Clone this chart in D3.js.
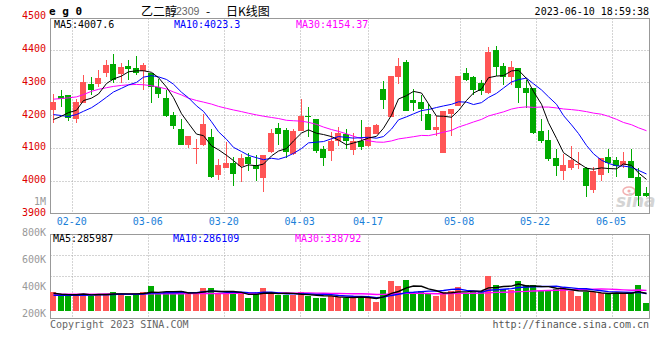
<!DOCTYPE html>
<html><head><meta charset="utf-8">
<script src="https://cdn.jsdelivr.net/npm/d3@7"></script>
<style>
html,body{margin:0;padding:0;background:#fff;}
svg{display:block;}
</style></head><body>
<svg id="c" width="660" height="360"></svg>
<script>
// ---------------- DATA ----------------
const dates = ["02-15","02-16","02-17",
"02-20","02-21","02-22","02-23","02-24",
"02-27","02-28","03-01","03-02","03-03",
"03-06","03-07","03-08","03-09","03-10",
"03-13","03-14","03-15","03-16","03-17",
"03-20","03-21","03-22","03-23","03-24",
"03-27","03-28","03-29","03-30","03-31",
"04-03","04-04","04-06","04-07",
"04-10","04-11","04-12","04-13","04-14",
"04-17","04-18","04-19","04-20","04-21",
"04-24","04-25","04-26","04-27","04-28",
"05-04","05-05",
"05-08","05-09","05-10","05-11","05-12",
"05-15","05-16","05-17","05-18","05-19",
"05-22","05-23","05-24","05-25","05-26",
"05-29","05-30","05-31","06-01","06-02",
"06-05","06-06","06-07","06-08","06-09",
"06-12"];

const open  = [4216,4259,4262,4188,4239,4296,4296,4329,4357,4326,4351,4345,4336,4329,4288,4255,4201,4158,4110,4099,
               4110,4136,4018,4039,4054,4046,4074,4048,4008,4089,4162,4157,4082,4154,4198,4189,4097,4092,4122,4144,
               4096,4121,4106,4145,4280,4196,4317,4363,4246,4241,4206,4155,4086,4206,4229,4331,4318,4300,4269,4401,
               4351,4317,4346,4283,4283,4154,4125,4071,4032,4041,4050,4041,3972,4018,4072,4064,4048,4062,4013,3964];
const high  = [4265,4278,4262,4252,4323,4318,4339,4369,4388,4359,4369,4382,4361,4331,4313,4278,4211,4188,4139,4129,
               4205,4159,4067,4118,4072,4082,4087,4080,4079,4159,4177,4161,4159,4251,4225,4189,4108,4149,4164,4160,
               4147,4186,4164,4175,4305,4322,4377,4369,4282,4264,4234,4198,4213,4221,4322,4346,4320,4308,4410,4411,
               4359,4366,4346,4308,4283,4189,4156,4098,4084,4107,4088,4044,4044,4069,4098,4074,4088,4098,4039,3983];
const low   = [4178,4227,4184,4178,4237,4262,4286,4318,4300,4298,4310,4324,4278,4239,4255,4196,4160,4110,4102,4053,
               4108,4008,4003,4039,3985,3997,4031,4000,3966,4087,4110,4070,4080,4152,4133,4087,4046,4062,4108,4097,
               4081,4096,4104,4143,4221,4195,4295,4213,4213,4183,4155,4137,4086,4137,4229,4305,4264,4264,4267,4322,
               4293,4293,4239,4222,4144,4115,4062,4015,4003,4034,4037,3950,3965,4000,4025,4013,4039,4008,3925,3950];
const close = [4241,4251,4194,4241,4302,4278,4314,4354,4310,4347,4343,4329,4355,4286,4266,4198,4168,4110,4139,4102,
               4174,4013,4050,4054,4021,4070,4051,4038,4079,4146,4144,4089,4154,4200,4195,4092,4069,4123,4146,4122,
               4121,4104,4164,4172,4246,4320,4351,4215,4237,4221,4155,4164,4213,4221,4322,4310,4278,4274,4394,4347,
               4317,4349,4285,4268,4148,4123,4067,4046,4049,4064,4051,3986,4031,4069,4054,4046,4061,4010,3954,3954];
const volume = [359000,337000,342000,342000,342000,330000,347000,347000,359000,347000,
                330000,347000,359000,406000,342000,359000,347000,367000,347000,347000,
                389000,389000,347000,347000,342000,359000,317000,347000,389000,347000,
                337000,337000,337000,359000,330000,317000,317000,330000,324000,313000,
                313000,332000,313000,285000,374000,441000,404000,448000,350000,367000,
                347000,332000,359000,367000,399000,347000,357000,367000,480000,411000,
                384000,374000,441000,409000,411000,367000,367000,384000,394000,369000,
                332000,357000,359000,350000,347000,347000,347000,359000,411000,280000];

const ma5Head  = [4188,4198,4209,4216];
const ma10Head = [4203,4200,4197,4203,4213,4224,4238,4256,4272];
const ma30Head = [4250,4252,4254,4257,4264,4274,4280,4285,4289,4292,4294,4295,4294,4291,4287,
                  4281,4272,4263,4253,4246,4241,4235,4228,4222,4217,4212,4207,4202,4198];
const volMa5Head  = [350000,343000,340000,339000];
const volMa10Head = [336000,335000,335000,336000,336000,337000,338000,339000,341000];
const volMa30Head = [344000,344000,343000,343000,344000,344000,344000,345000,344000,344000,
                     345000,345000,346000,346000,346000,347000,347000,347000,348000,348000,
                     348000,349000,349000,349000,350000,350000,350000,351000,351000];

const priceTicks = [4500,4400,4300,4200,4100,4000,3900];
const volTicks = [800000,600000,400000,200000];
const volTickLabels = ["800K","600K","400K","200K"];
const dateTicks = ["02-20","03-06","03-20","04-03","04-17","05-08","05-22","06-05"];
const maNames = ["MA5","MA10","MA30"];
const maWindows = [5,10,30];
const priceMaLast = ["4007.6","4023.3","4154.37"];
const volMaLast = ["285987","286109","338792"];

// ---------------- STYLE / LAYOUT ----------------
const UP = "#ff5555", DOWN = "#00aa00";
const maColors = ["#000000","#0000ff","#ff00ff"];
const MONO = "'DejaVu Sans Mono', monospace";
const legendX = [54,174,296];

const svg = d3.select("#c");
const main = {left:50.5, right:649.5, top:18.5, bottom:213.5};
const vol = {top:234.5, bottom:318.5, base:310.7};

const x = d3.scaleBand().domain(dates).range([49.75,649.75]).paddingInner(0.2).paddingOuter(0.1);
const xGrid = d3.scalePoint().domain(dates).range([50,650]);
const y = d3.scaleLinear().domain([3900,4500]).range([213.8,17.3]);
const yv = d3.scaleLinear().domain([200000,800000]).range([313.6,232.4]);

function movingAvg(vals, n, head){
  return vals.map((v,i)=>{
    if(i < n-1) return head[i];
    let s=0; for(let k=i-n+1;k<=i;k++) s+=vals[k];
    return s/n;
  });
}
const idx = d3.range(dates.length);
const cx = i => Math.floor(x(dates[i])) + 3.5;

// ---------------- GRID ----------------
const grid = svg.append("g").attr("stroke","#a8a8a8").attr("stroke-dasharray","1,2").attr("stroke-width",1);
priceTicks.filter(v=>v<4500&&v>3900).forEach(v=>{
  const yy = Math.floor(y(v))+0.5;
  grid.append("line").attr("x1",main.left).attr("x2",main.right).attr("y1",yy).attr("y2",yy);
});
[255.5,276.5].forEach(yy=>{
  grid.append("line").attr("x1",main.left).attr("x2",main.right).attr("y1",yy).attr("y2",yy);
});
dateTicks.forEach(d=>{
  const xx = Math.floor(xGrid(d))+0.5;
  grid.append("line").attr("x1",xx).attr("x2",xx).attr("y1",main.top).attr("y2",main.bottom);
  grid.append("line").attr("x1",xx).attr("x2",xx).attr("y1",vol.top).attr("y2",vol.bottom);
});

// ---------------- WATERMARK ----------------
const wm = svg.append("g");
wm.append("ellipse").attr("cx",629).attr("cy",191).attr("rx",6).attr("ry",4)
  .attr("fill","none").attr("stroke","#f2b0b0").attr("stroke-width",1.5);
wm.append("circle").attr("cx",629).attr("cy",191).attr("r",1.6).attr("fill","#f2b0b0");
wm.append("text").attr("x",616).attr("y",207).text("sina")
  .attr("font-family","'DejaVu Sans', sans-serif").attr("font-size",17).attr("font-weight","bold")
  .attr("font-style","italic").attr("fill","#d4d4d4");

// ---------------- FRAMES ----------------
const frame = svg.append("g").attr("fill","none").attr("stroke","#999").attr("stroke-width",1);
frame.append("rect").attr("x",main.left).attr("y",main.top).attr("width",main.right-main.left).attr("height",main.bottom-main.top);
frame.append("rect").attr("x",main.left).attr("y",vol.top).attr("width",main.right-main.left).attr("height",vol.bottom-vol.top);

// ---------------- CANDLES ----------------
const cg = svg.append("g");
idx.forEach(i=>{
  const up = close[i] >= open[i];
  const col = up ? UP : DOWN;
  const bx = Math.floor(x(dates[i]));
  cg.append("line").attr("x1",bx+3.5).attr("x2",bx+3.5)
    .attr("y1",Math.round(y(high[i]))).attr("y2",Math.round(y(low[i])))
    .attr("stroke",col).attr("stroke-width",1);
  const top = Math.round(y(Math.max(open[i],close[i])));
  const bot = Math.round(y(Math.min(open[i],close[i])));
  cg.append("rect").attr("x",bx).attr("y",top).attr("width",Math.round(x.bandwidth()))
    .attr("height",Math.max(1,bot-top)).attr("fill",col).attr("shape-rendering","crispEdges");
});

// ---------------- VOLUME BARS ----------------
const vg = svg.append("g");
idx.forEach(i=>{
  const up = close[i] >= open[i];
  const bx = Math.floor(x(dates[i]));
  const top = yv(volume[i]);
  vg.append("rect").attr("x",bx).attr("y",top).attr("width",Math.round(x.bandwidth()))
    .attr("height",Math.max(1,vol.base-top)).attr("fill",up?UP:DOWN).attr("shape-rendering","crispEdges");
});

// ---------------- MA LINES ----------------
const heads = [ma5Head, ma10Head, ma30Head];
const vheads = [volMa5Head, volMa10Head, volMa30Head];
[2,1,0].forEach(k=>{
  const m = movingAvg(close, maWindows[k], heads[k]);
  svg.append("path").datum(idx)
    .attr("d", d3.line().x(i=>cx(i)).y(i=>y(m[i])))
    .attr("fill","none").attr("stroke",maColors[k]).attr("stroke-width",1);
  const vm = movingAvg(volume, maWindows[k], vheads[k]);
  svg.append("path").datum(idx)
    .attr("d", d3.line().x(i=>cx(i)).y(i=>yv(vm[i])))
    .attr("fill","none").attr("stroke",maColors[k]).attr("stroke-width",1.4);
});

// ---------------- AXIS LABELS ----------------
const tg = svg.append("g").attr("font-family",MONO).attr("font-size",10);
priceTicks.forEach(v=>{
  tg.append("text").attr("x",46).attr("y",y(v)-1.5).attr("text-anchor","end")
    .attr("dominant-baseline","central").attr("fill","#dd0000").text(v);
});
tg.append("text").attr("x",46).attr("y",201).attr("text-anchor","end")
  .attr("dominant-baseline","central").attr("fill","#999").text("1M");
volTicks.forEach((v,k)=>{
  tg.append("text").attr("x",46).attr("y",yv(v)).attr("text-anchor","end")
    .attr("dominant-baseline","central").attr("fill","#999").text(volTickLabels[k]);
});
dateTicks.forEach(d=>{
  tg.append("text").attr("x",xGrid(d)-1).attr("y",221).attr("text-anchor","middle")
    .attr("dominant-baseline","central").attr("fill","#1a80d8").text(d);
});

// ---------------- LEGENDS ----------------
maNames.forEach((n,k)=>{
  tg.append("text").attr("x",legendX[k]).attr("y",24).attr("dominant-baseline","central")
    .attr("fill",maColors[k]).text(n+":"+priceMaLast[k]);
  tg.append("text").attr("x",legendX[k]-1).attr("y",238.5).attr("dominant-baseline","central")
    .attr("fill",maColors[k]).text(n+":"+volMaLast[k]);
});

// ---------------- TITLES ----------------
svg.append("text").attr("x",49).attr("y",11).attr("dominant-baseline","central")
  .attr("font-family",MONO).attr("font-size",11).attr("font-weight","bold").attr("fill","#000").text("e g 0");
const CJK = "'Noto Sans CJK SC', sans-serif";
svg.append("text").attr("x",141).attr("y",10).attr("dominant-baseline","central")
  .attr("font-family",CJK).attr("font-size",12).attr("fill","#000").text("乙二醇");
svg.append("text").attr("x",176).attr("y",10.5).attr("dominant-baseline","central")
  .attr("font-family","'Liberation Sans', sans-serif").attr("font-size",10.5).attr("fill","#666").text("2309");
svg.append("text").attr("x",206).attr("y",10).attr("dominant-baseline","central")
  .attr("font-family",CJK).attr("font-size",12).attr("fill","#000").text("-");
svg.append("text").attr("x",226).attr("y",10).attr("dominant-baseline","central")
  .attr("font-family",CJK).attr("font-size",12).attr("fill","#000").text("日K线图");
svg.append("text").attr("x",649).attr("y",11.5).attr("text-anchor","end").attr("dominant-baseline","central")
  .attr("font-family",MONO).attr("font-size",10).attr("fill","#000").text("2023-06-10 18:59:38");

// ---------------- FOOTER ----------------
svg.append("text").attr("x",50).attr("y",324).attr("dominant-baseline","central")
  .attr("font-family",MONO).attr("font-size",10).attr("fill","#666").text("Copyright 2023 SINA.COM");
svg.append("text").attr("x",649).attr("y",324).attr("text-anchor","end").attr("dominant-baseline","central")
  .attr("font-family",MONO).attr("font-size",10).attr("fill","#555").text("http://finance.sina.com.cn");
</script>
</body></html>
